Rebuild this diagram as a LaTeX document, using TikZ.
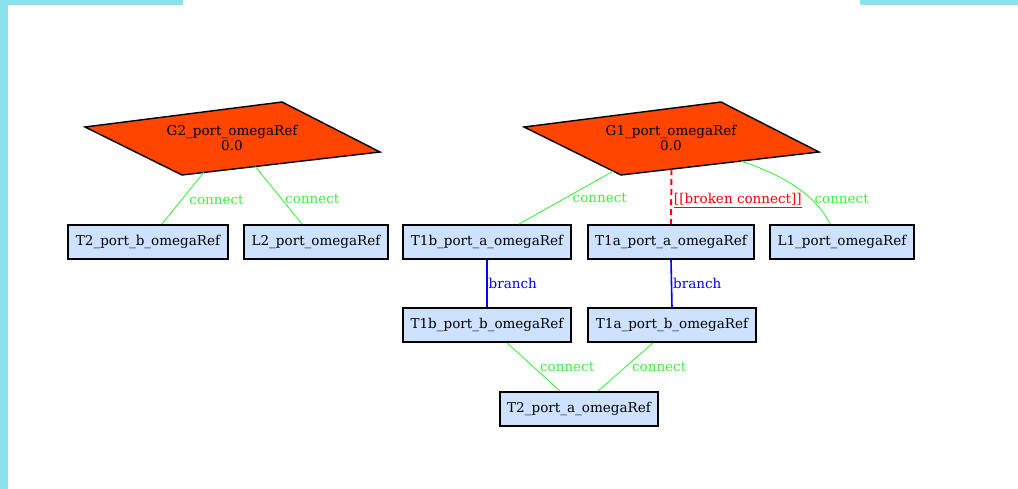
\documentclass[tikz,border=0pt]{standalone}
\usepackage{fontspec}
\setmainfont{DejaVu Serif}
\usepackage{tikz}
\usetikzlibrary{calc}
\definecolor{frameCyan}{HTML}{8CE2EA}
\definecolor{portBlue}{HTML}{CCE2FF}
\definecolor{refRed}{HTML}{FF4500}
\definecolor{linkGreen}{HTML}{40EE40}

\begin{document}
\begin{tikzpicture}[
  x=0.02cm, y=-0.02cm,
  font=\fontsize{7.7}{8.2}\selectfont,
  port/.style={draw, line width=1.1pt, fill=portBlue, minimum height=0.68cm, inner xsep=0.15cm, inner ysep=0pt},
  refshape/.style={draw, line width=0.8pt, fill=refRed},
  reftext/.style={align=center, inner sep=0pt},
  link/.style={draw=linkGreen, line width=0.5pt},
  branchline/.style={draw=blue, line width=0.9pt},
  broken/.style={draw=red, line width=1.1pt, dash pattern=on 3.4pt off 2.3pt},
  lab/.style={anchor=west, xshift=3pt, inner sep=0.5pt, text=#1},
  lab/.default=linkGreen
]
\useasboundingbox (0,0) rectangle (1018,489);
% frame bars
\fill[frameCyan] (0,0) rectangle (8,489);
\fill[frameCyan] (0,0) rectangle (183,5);
\fill[frameCyan] (860,0) rectangle (1018,5);
% reference ports
\foreach \g/\dx/\lbl in {g2/0/G2, g1/439/G1}{
  \coordinate (\g-l) at (85+\dx,127);
  \coordinate (\g-t) at (282+\dx,102);
  \coordinate (\g-r) at (380+\dx,152);
  \coordinate (\g-b) at (182+\dx,175);
  \draw[refshape] (\g-l) -- (\g-t) -- (\g-r) -- (\g-b) -- cycle;
  \node[reftext] (\g) at (232+\dx,138) {\lbl\_port\_omegaRef\\0.0};
}
% ports
\node[port] (t2b) at (148,242) {T2\_port\_b\_omegaRef};
\node[port] (l2) at (316,242) {L2\_port\_omegaRef};
\node[port] (t1ba) at (487,242) {T1b\_port\_a\_omegaRef};
\node[port] (t1aa) at (671,242) {T1a\_port\_a\_omegaRef};
\node[port] (l1) at (842,242) {L1\_port\_omegaRef};
\node[port] (t1bb) at (487,325) {T1b\_port\_b\_omegaRef};
\node[port] (t1ab) at (672,325) {T1a\_port\_b\_omegaRef};
\node[port] (t2a) at (579,409) {T2\_port\_a\_omegaRef};
% connections
\draw[link] ($(g2-b)!0.11!(g2-r)$) -- ($(t2b.north)+(14,0)$) node[lab, midway, yshift=-1pt]{connect};
\draw[link] ($(g2-b)!0.37!(g2-r)$) -- ($(l2.north)+(-14,0)$) node[lab, midway, yshift=-2pt]{connect};
\draw[link] ($(g1-l)!0.92!(g1-b)$) -- ($(t1ba.north)+(32,0)$) node[lab, midway]{connect};
\draw[broken] ($(g1-b)!0.255!(g1-r)$) -- (t1aa.north) node[lab=red, midway, xshift=-2.5pt, yshift=-2.5pt]{\underline{[[broken connect]]}};
\coordinate (l1in) at ($(l1.north)+(-12,0)$);
\draw[link] ($(g1-b)!0.607!(g1-r)$) .. controls +(50,17) and +(-12,-25) .. (l1in) node[lab, pos=0.6, yshift=-2pt]{connect};
\draw[branchline] (t1ba.south) -- (t1bb.north) node[lab=blue, midway, xshift=-3pt]{branch};
\draw[branchline] (t1aa.south) -- (t1ab.north) node[lab=blue, midway, xshift=-3pt]{branch};
\draw[link] ($(t1bb.south)+(20,0)$) -- ($(t2a.north)+(-19,0)$) node[lab, midway]{connect};
\draw[link] ($(t1ab.south)+(-19,0)$) -- ($(t2a.north)+(19,0)$) node[lab, midway]{connect};
\end{tikzpicture}
\end{document}
